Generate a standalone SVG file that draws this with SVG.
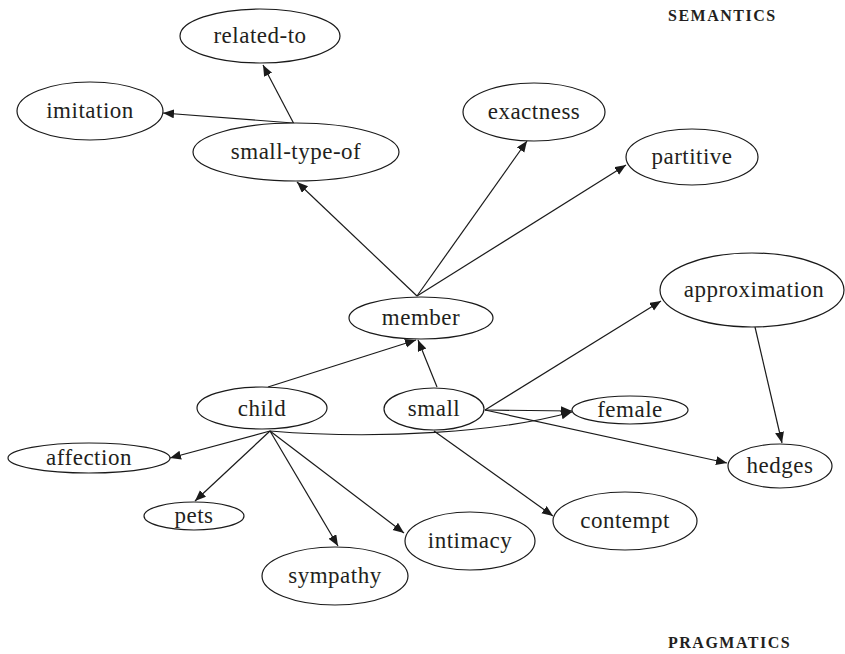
<svg xmlns="http://www.w3.org/2000/svg" width="845" height="654" viewBox="0 0 845 654">
<style>
.n ellipse{fill:#fff;stroke:#1a1a1a;stroke-width:1.2}
.n text{font-family:"Liberation Serif",serif;font-size:23px;letter-spacing:0.5px;fill:#231f20;text-anchor:middle}
.e path,.e line{fill:none;stroke:#1a1a1a;stroke-width:1.2;marker-end:url(#ah)}
.lbl{font-family:"Liberation Serif",serif;font-size:16px;font-weight:bold;letter-spacing:1.5px;fill:#231f20}
</style>
<defs>
<marker id="ah" markerUnits="userSpaceOnUse" markerWidth="12" markerHeight="10" refX="11" refY="4.5" orient="auto">
<path d="M0,0 L11,4.5 L0,9 z" fill="#1a1a1a"/>
</marker>
</defs>
<rect width="845" height="654" fill="#fff"/>
<g class="e" id="connectors">
<line x1="294" y1="124" x2="263" y2="65"/>
<line x1="293" y1="123" x2="163" y2="113"/>
<line x1="417" y1="296" x2="297" y2="182"/>
<line x1="417" y1="296" x2="527" y2="141"/>
<line x1="417" y1="296" x2="626" y2="165"/>
<line x1="268" y1="387" x2="416" y2="340"/>
<line x1="437" y1="387" x2="418" y2="340"/>
<line x1="485" y1="410" x2="661" y2="301"/>
<line x1="485" y1="410" x2="572" y2="411"/>
<path d="M270,431 C380,440 500,432 572,412"/>
<line x1="485" y1="410" x2="727" y2="463"/>
<line x1="755" y1="327" x2="782" y2="443"/>
<line x1="270" y1="431" x2="170" y2="458"/>
<line x1="270" y1="431" x2="195" y2="501"/>
<line x1="270" y1="431" x2="338" y2="546"/>
<line x1="270" y1="431" x2="404" y2="533"/>
<line x1="434" y1="431" x2="553" y2="516"/>
</g>
<g class="n" id="related-to"><ellipse cx="260" cy="36" rx="80" ry="27"/><text x="260" y="43">related-to</text></g>
<g class="n" id="imitation"><ellipse cx="90" cy="111" rx="73" ry="29"/><text x="90" y="118">imitation</text></g>
<g class="n" id="small-type-of"><ellipse cx="296" cy="152" rx="103" ry="29"/><text x="296" y="159">small-type-of</text></g>
<g class="n" id="exactness"><ellipse cx="534" cy="112" rx="71" ry="29"/><text x="534" y="119">exactness</text></g>
<g class="n" id="partitive"><ellipse cx="692" cy="157" rx="66" ry="28"/><text x="692" y="164">partitive</text></g>
<g class="n" id="member"><ellipse cx="421" cy="318" rx="72" ry="21"/><text x="421" y="325">member</text></g>
<g class="n" id="approximation"><ellipse cx="752" cy="290" rx="92" ry="37"/><text x="754" y="297">approximation</text></g>
<g class="n" id="child"><ellipse cx="262" cy="408" rx="65" ry="21"/><text x="262" y="416">child</text></g>
<g class="n" id="small"><ellipse cx="434" cy="409" rx="50" ry="21"/><text x="434" y="416">small</text></g>
<g class="n" id="female"><ellipse cx="630" cy="410" rx="58" ry="14"/><text x="630" y="417">female</text></g>
<g class="n" id="hedges"><ellipse cx="780" cy="466" rx="52" ry="22"/><text x="780" y="473">hedges</text></g>
<g class="n" id="affection"><ellipse cx="89" cy="458" rx="81" ry="15"/><text x="89" y="465">affection</text></g>
<g class="n" id="pets"><ellipse cx="194" cy="516" rx="50" ry="14"/><text x="194" y="523">pets</text></g>
<g class="n" id="sympathy"><ellipse cx="335" cy="576" rx="73" ry="29"/><text x="335" y="583">sympathy</text></g>
<g class="n" id="intimacy"><ellipse cx="470" cy="541" rx="65" ry="29"/><text x="470" y="548">intimacy</text></g>
<g class="n" id="contempt"><ellipse cx="625" cy="521" rx="72" ry="29"/><text x="625" y="528">contempt</text></g>
<text class="lbl" x="668" y="21">SEMANTICS</text>
<text class="lbl" x="668" y="648">PRAGMATICS</text>
</svg>
